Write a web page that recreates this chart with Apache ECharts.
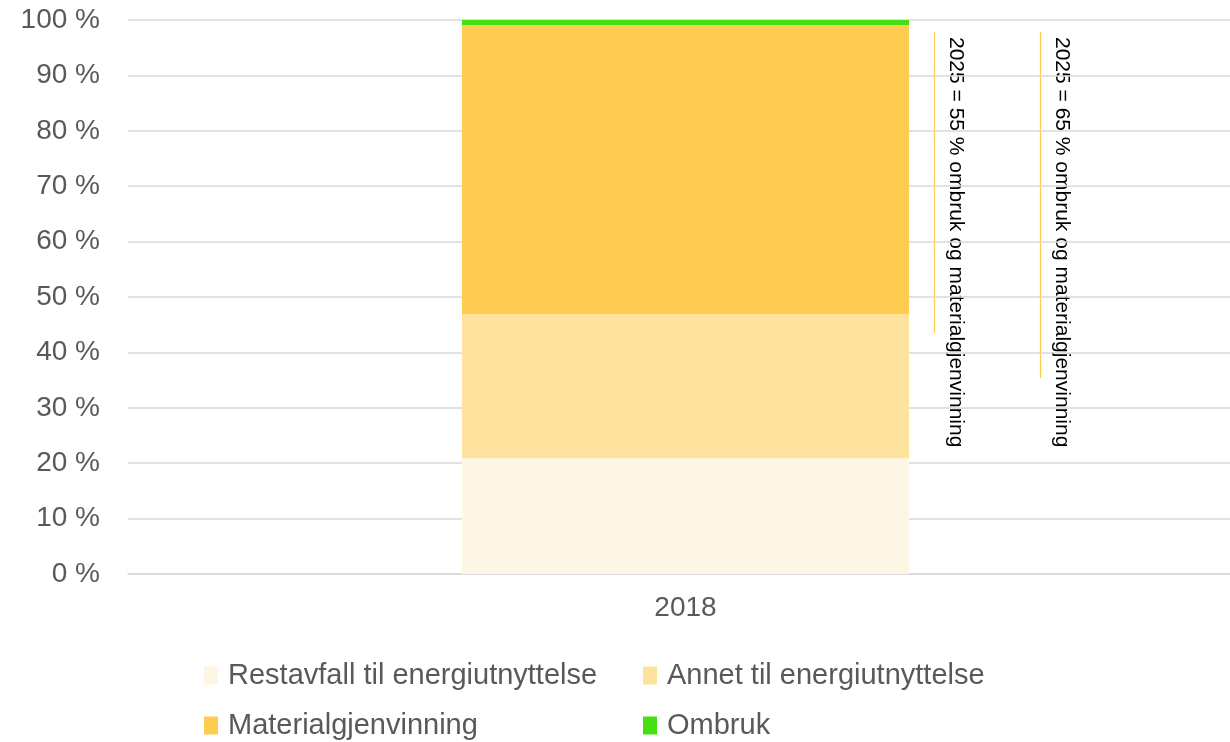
<!DOCTYPE html>
<html>
<head>
<meta charset="utf-8">
<script src="https://cdn.jsdelivr.net/npm/echarts@6/dist/echarts.min.js"></script>
<style>
html,body{margin:0;padding:0;background:#fff;overflow:hidden;width:1230px;height:742px;}
#c{width:1243px;height:742px;}
</style>
</head>
<body>
<div id="c"></div>
<script>
var categories = ['2018'];
var seriesNames = ['Restavfall til energiutnyttelse', 'Annet til energiutnyttelse', 'Materialgjenvinning', 'Ombruk'];
var restavfall = [20.9];
var annet = [26.0];
var materialgjenvinning = [52.2];
var ombruk = [0.9];
var seriesValues = [restavfall, annet, materialgjenvinning, ombruk];
var annotationTexts = ['2025 = 55 % ombruk og materialgjenvinning', '2025 = 65 % ombruk og materialgjenvinning'];

var colors = ['#FEF6E4', '#FEE39F', '#FECC50', '#45E012'];
var font = '"Liberation Sans", Arial, sans-serif';
var chart = echarts.init(document.getElementById('c'));

var legendPos = [[204, 661], [643, 661], [204, 711], [643, 711]];
var legends = seriesNames.map(function (n, i) {
  return {
    data: [n], left: legendPos[i][0], top: legendPos[i][1], padding: 0,
    itemWidth: 14, itemHeight: 18, icon: 'rect',
    textStyle: { fontFamily: font, fontSize: 29, color: '#595959', padding: [0, 0, 0, 5] },
    selectedMode: false
  };
});

var option = {
  animation: false,
  color: colors,
  grid: { left: 128, right: 0, top: 20, bottom: 168 },
  legend: legends,
  xAxis: {
    type: 'category', data: categories,
    axisLine: { lineStyle: { color: '#d9d9d9', width: 1.5 } },
    axisTick: { show: false },
    axisLabel: { fontFamily: font, fontSize: 28, color: '#595959', margin: 20 }
  },
  yAxis: {
    type: 'value', min: 0, max: 100, interval: 10,
    axisLine: { show: false }, axisTick: { show: false },
    splitLine: { lineStyle: { color: '#d9d9d9', width: 1.5 } },
    axisLabel: { fontFamily: font, fontSize: 28, color: '#595959', margin: 28, formatter: '{value} %' }
  },
  series: seriesNames.map(function (n, i) {
    return { name: n, type: 'bar', stack: 'total', data: seriesValues[i], barWidth: '40.1%' };
  }),
  graphic: [
    { type: 'line', shape: { x1: 934.5, y1: 32, x2: 934.5, y2: 333 }, style: { stroke: '#FECC50', lineWidth: 1.2 } },
    { type: 'line', shape: { x1: 1040.5, y1: 32, x2: 1040.5, y2: 378 }, style: { stroke: '#FECC50', lineWidth: 1.2 } },
    { type: 'text', x: 956, y: 37, rotation: -Math.PI / 2,
      style: { text: annotationTexts[0], fontFamily: font, fontSize: 21, fill: '#000', textAlign: 'left', align: 'left', textVerticalAlign: 'middle', verticalAlign: 'middle' } },
    { type: 'text', x: 1062, y: 37, rotation: -Math.PI / 2,
      style: { text: annotationTexts[1], fontFamily: font, fontSize: 21, fill: '#000', textAlign: 'left', align: 'left', textVerticalAlign: 'middle', verticalAlign: 'middle' } }
  ]
};
chart.setOption(option);
</script>
</body>
</html>
